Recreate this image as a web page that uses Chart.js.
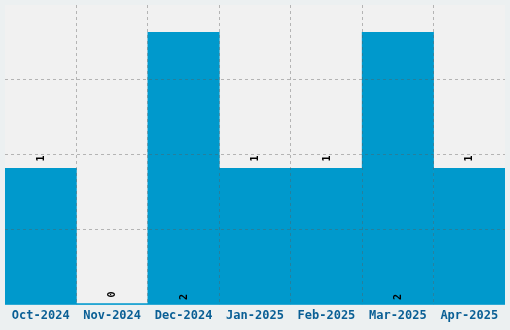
<!DOCTYPE html>
<html><head><meta charset="utf-8">
<script src="https://cdn.jsdelivr.net/npm/chart.js@4/dist/chart.umd.min.js"></script>
<style>html,body{margin:0;padding:0;background:#ecf0f1;}#wrap{width:510px;height:330px;}</style>
</head><body><div id="wrap"><canvas id="c" width="510" height="330"></canvas></div>
<script>
const categories = ["Oct-2024","Nov-2024","Dec-2024","Jan-2025","Feb-2025","Mar-2025","Apr-2025"];
const values = [1, 0, 2, 1, 1, 2, 1];
const yMax = 2.2;
const yStep = 0.55;

const plotBg = {
  id: 'plotBg',
  beforeDraw(chart) {
    const {ctx, chartArea: a} = chart;
    ctx.save();
    ctx.fillStyle = '#f1f1f1';
    ctx.fillRect(a.left, a.top, a.right - a.left, a.bottom - a.top);
    ctx.restore();
  }
};
const valueLabels = {
  id: 'valueLabels',
  afterDraw(chart) {
    const ctx = chart.ctx;
    const meta = chart.getDatasetMeta(0);
    const maxV = Math.max(...values);
    ctx.save();
    ctx.font = 'bold 10px "DejaVu Sans Mono"';
    ctx.fillStyle = '#000';
    meta.data.forEach((el, i) => {
      const v = values[i];
      const txt = String(v);
      ctx.save();
      if (v === maxV) {
        ctx.translate(el.x + 0.5, el.base - 4);
      } else {
        ctx.translate(el.x + 0.5, el.y - 7);
      }
      ctx.rotate(-Math.PI / 2);
      ctx.textAlign = 'left';
      ctx.textBaseline = 'middle';
      ctx.fillText(txt, 0, 0);
      ctx.restore();
    });
    ctx.restore();
  }
};
const bottomLine = {
  id: 'bottomLine',
  afterDatasetsDraw(chart) {
    const {ctx, chartArea: a} = chart;
    ctx.save();
    ctx.strokeStyle = '#0099cc';
    ctx.lineWidth = 1.5;
    ctx.beginPath();
    ctx.moveTo(a.left, a.bottom - 0.5);
    ctx.lineTo(a.right, a.bottom - 0.5);
    ctx.stroke();
    ctx.restore();
  }
};

const gridCol = 'rgba(90,90,90,0.4)';
const clear = 'rgba(0,0,0,0)';

new Chart(document.getElementById('c'), {
  type: 'bar',
  data: {
    labels: categories,
    datasets: [{
      data: values,
      backgroundColor: '#0099cc',
      borderWidth: 0,
      categoryPercentage: 1.0,
      barPercentage: 1.0
    }]
  },
  options: {
    responsive: false,
    animation: false,
    devicePixelRatio: 1,
    layout: { padding: { left: 5, right: 5, top: 5, bottom: 3 } },
    plugins: { legend: { display: false }, tooltip: { enabled: false } },
    scales: {
      x: {
        offset: true,
        grid: {
          z: 1,
          offset: true,
          drawTicks: false,
          color: (c) => (c.type !== 'tick' || c.index === 0) ? clear : gridCol
        },
        border: { display: false, dash: [3, 3] },
        ticks: {
          color: '#0a5f95',
          font: { family: '"DejaVu Sans Mono"', weight: 'bold', size: 12 },
          padding: 4,
          maxRotation: 0,
          autoSkip: false
        }
      },
      y: {
        min: 0,
        max: yMax,
        ticks: { display: false, stepSize: yStep },
        grid: {
          z: 1,
          drawTicks: false,
          color: (c) => (c.type !== 'tick' || c.tick.value === 0 || Math.abs(c.tick.value - yMax) < 1e-6) ? clear : gridCol
        },
        border: { display: false, dash: [3, 3] }
      }
    }
  },
  plugins: [plotBg, bottomLine, valueLabels]
});
</script></body></html>
